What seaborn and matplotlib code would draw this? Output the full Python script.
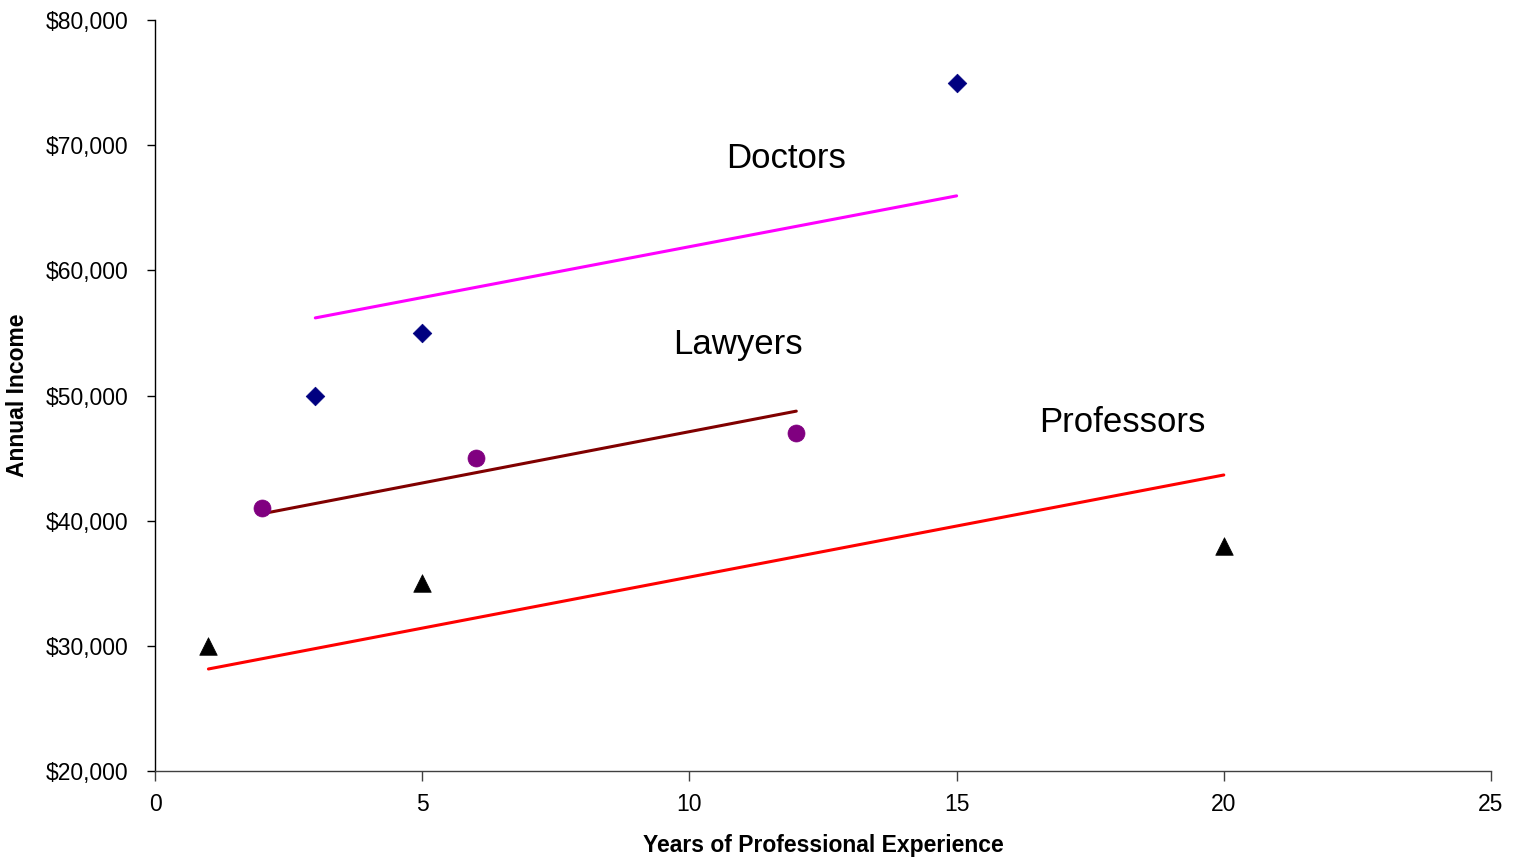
import matplotlib
matplotlib.use("Agg")
import matplotlib.pyplot as plt
import matplotlib.ticker as mticker
import seaborn as sns

# Observed incomes by profession
doctors_years = [3, 5, 15]
doctors_income = [50000, 55000, 75000]
lawyers_years = [2, 6, 12]
lawyers_income = [41000, 45000, 47000]
professors_years = [1, 5, 20]
professors_income = [30000, 35000, 38000]

# Fitted trend lines (endpoints over each group's range)
doctors_fit_years = [3, 15]
doctors_fit_income = [56200, 65950]
lawyers_fit_years = [2, 12]
lawyers_fit_income = [40550, 48750]
professors_fit_years = [1, 20]
professors_fit_income = [28150, 43650]

group_labels = ["Doctors", "Lawyers", "Professors"]
label_x = [11.8, 10.9, 18.1]
label_y = [68950, 54100, 47850]

sns.set_style("white")
plt.rcParams["font.family"] = ["Liberation Sans", "DejaVu Sans"]
plt.rcParams["text.color"] = "black"
plt.rcParams["axes.labelcolor"] = "black"
plt.rcParams["xtick.color"] = "black"
plt.rcParams["ytick.color"] = "black"

fig = plt.figure(figsize=(15.22, 8.6), dpi=100)
ax = fig.add_axes([155 / 1522, 89 / 860, (1491 - 155) / 1522, (771 - 20) / 860])

fits = [
    (doctors_fit_years, doctors_fit_income, "#FF00FF"),
    (lawyers_fit_years, lawyers_fit_income, "#800000"),
    (professors_fit_years, professors_fit_income, "#FF0000"),
]
for xs, ys, c in fits:
    sns.lineplot(x=xs, y=ys, ax=ax, color=c, linewidth=2.2, zorder=2)

points = [
    (doctors_years, doctors_income, "D", "#000080", 90),
    (lawyers_years, lawyers_income, "o", "#800080", 150),
    (professors_years, professors_income, "^", "#000000", 160),
]
for xs, ys, m, c, s in points:
    sns.scatterplot(x=xs, y=ys, ax=ax, marker=m, color=c, s=s,
                    edgecolor=c, linewidth=0.5, zorder=3)

for lbl, lx, ly in zip(group_labels, label_x, label_y):
    ax.text(lx, ly, lbl, ha="center", va="center", fontsize=25, color="black")

ax.set_xlim(0, 25)
ax.set_ylim(20000, 80000)
ax.set_xticks([0, 5, 10, 15, 20, 25])
ax.set_yticks(range(20000, 80001, 10000))
ax.yaxis.set_major_formatter(mticker.FuncFormatter(lambda v, p: f"${v:,.0f}"))

for side in ["top", "right"]:
    ax.spines[side].set_visible(False)
ax.spines["left"].set_color("#000000")
ax.spines["bottom"].set_color("#404040")
ax.spines["left"].set_linewidth(1.0)
ax.spines["bottom"].set_linewidth(1.0)
ax.tick_params(axis="y", which="major", left=True, direction="out", length=6,
               width=1, color="#000000", labelcolor="black", labelsize=16.5, pad=13)
ax.tick_params(axis="x", which="major", bottom=True, direction="out", length=7,
               width=1, color="#404040", labelcolor="black", labelsize=16.5, pad=9)

ax.set_xlabel("Years of Professional Experience", fontsize=16.5,
              fontweight="bold", labelpad=13, color="black")
ax.set_ylabel("Annual Income", fontsize=16.5, fontweight="bold", labelpad=12,
              color="black")

fig.savefig("out.png", dpi=100)
